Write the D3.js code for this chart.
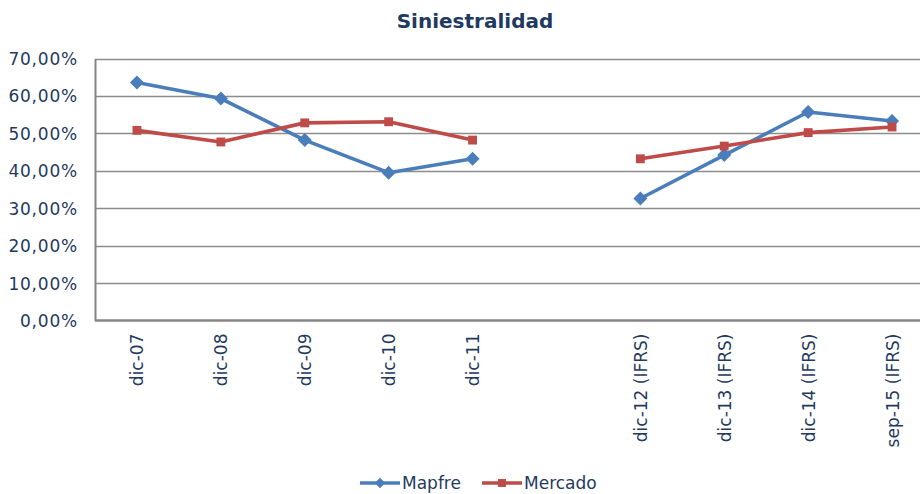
<!DOCTYPE html>
<html lang="es">
<head>
    <meta charset="UTF-8">
    <title>Siniestralidad</title>
    <script src="https://d3js.org/d3.v7.min.js"></script>
    <style>
        body { margin: 0; background: #fff; }
        text {
            font-family: 'DejaVu Sans', Verdana, sans-serif;
            fill: #1f3a60;
        }
        .title { font-weight: bold; font-size: 20px; text-anchor: middle; }
        .tick text { font-size: 17px; }
    </style>
</head>
<body>
<script>

    const width = 920;
    const height = 494;

    // categories ("" marks the empty slot between dic-11 and dic-12)
    const categories = ['dic-07','dic-08','dic-09','dic-10','dic-11','','dic-12 (IFRS)','dic-13 (IFRS)','dic-14 (IFRS)','sep-15 (IFRS)'];
    const mapfre  = [63.6, 59.3, 48.2, 39.5, 43.2, null, 32.6, 44.2, 55.7, 53.3];
    const mercado = [50.8, 47.7, 52.8, 53.1, 48.2, null, 43.2, 46.6, 50.2, 51.7];
    const yTicks = [0, 10, 20, 30, 40, 50, 60, 70];

    const seriesNames = ['Mapfre', 'Mercado'];
    const colors = ['#4a7ebb', '#be4b48'];

    const plotLeft = 95, plotTop = 58.5, plotBottom = 320.5;
    const step = 83.9;

    const keys = categories.map((c, i) => c === '' ? 'gap' + i : c);
    // first and last category centres; the plot area runs past the right edge
    const x = d3.scalePoint().domain(keys).range([plotLeft + step / 2, plotLeft + step * 9.5]);
    const y = d3.scaleLinear().domain([0, 70]).range([plotBottom, plotTop]);

    const svg = d3.select('body').append('svg').attr('width', width).attr('height', height);

    svg.append('text').attr('class', 'title').attr('x', 475).attr('y', 28).text('Siniestralidad');

    // gridlines
    svg.append('g').selectAll('line')
        .data(yTicks.filter(t => t > 0))
        .enter().append('line')
        .attr('x1', plotLeft).attr('x2', width)
        .attr('y1', d => Math.round(y(d)) + 0.5).attr('y2', d => Math.round(y(d)) + 0.5)
        .attr('stroke', '#8c8c8c').attr('stroke-width', 1.3);

    // y axis
    const yAxis = svg.append('g').attr('transform', `translate(${plotLeft},0)`)
        .call(d3.axisLeft(y).tickValues(yTicks).tickSize(0).tickPadding(17)
            .tickFormat(d => d3.format('.2f')(d).replace('.', ',') + '%'));
    yAxis.select('.domain').attr('stroke', '#868686').attr('stroke-width', 2);
    yAxis.selectAll('.tick text').attr('dy', '0.35em').attr('letter-spacing', '0.8px');

    // x axis
    const xAxis = svg.append('g').attr('transform', `translate(0,${plotBottom})`)
        .call(d3.axisBottom(x).tickSize(0).tickFormat((d, i) => categories[i]));
    xAxis.select('.domain').attr('d', `M${plotLeft},0H${width}`).attr('stroke', '#868686').attr('stroke-width', 2.5);
    xAxis.selectAll('.tick text')
        .attr('transform', 'rotate(-90)')
        .attr('text-anchor', 'end')
        .attr('x', -13).attr('y', 0).attr('dy', '0.35em');

    const line = d3.line()
        .defined(d => d.v !== null)
        .x(d => x(d.k)).y(d => y(d.v));

    [mapfre, mercado].forEach((vals, s) => {
        const pts = vals.map((v, i) => ({k: keys[i], v: v}));
        const g = svg.append('g');
        g.append('path').datum(pts)
            .attr('d', line).attr('fill', 'none')
            .attr('stroke', colors[s]).attr('stroke-width', 3.6)
            .attr('stroke-linejoin', 'round');
        const sym = s === 0 ? d3.symbol().type(d3.symbolDiamond2).size(125)
                            : d3.symbol().type(d3.symbolSquare2).size(100);
        g.selectAll('path.m').data(pts.filter(d => d.v !== null))
            .enter().append('path').attr('class', 'm')
            .attr('d', sym)
            .attr('transform', d => `translate(${x(d.k)},${y(d.v)})`)
            .attr('fill', colors[s]);
    });

    // legend
    const legend = svg.append('g').attr('transform', 'translate(0,483)');
    const legX = [360, 482];
    seriesNames.forEach((name, s) => {
        const g = legend.append('g').attr('transform', `translate(${legX[s]},0)`);
        g.append('line').attr('x1', 0).attr('x2', 40).attr('y1', 0).attr('y2', 0)
            .attr('stroke', colors[s]).attr('stroke-width', 3.6);
        const sym = s === 0 ? d3.symbol().type(d3.symbolDiamond2).size(70)
                            : d3.symbol().type(d3.symbolSquare2).size(80);
        g.append('path').attr('d', sym).attr('transform', 'translate(20,0)').attr('fill', colors[s]);
        g.append('text').attr('x', 42).attr('y', 0).attr('dy', '0.35em')
            .style('font-size', '17px').text(name);
    });

</script>
</body>
</html>
